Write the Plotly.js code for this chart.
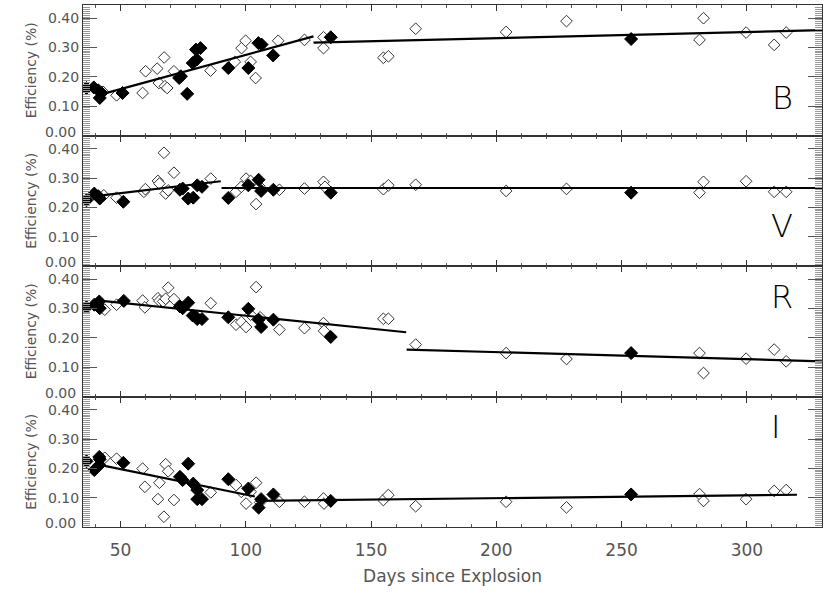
<!DOCTYPE html>
<html>
<head>
<meta charset="utf-8">
<script src="https://cdn.plot.ly/plotly-3.0.1.min.js"></script>
<style>
  html, body { margin: 0; padding: 0; background: #fff; }
  #plot1 { width: 830px; height: 593px; }
</style>
</head>
<body>
<div id="plot1"></div>
<script>
// B band
let b_open_days = [43.0, 48.4, 58.8, 60.0, 64.6, 65.3, 67.4, 67.7, 68.6, 71.3, 85.9, 95.6, 98.3, 99.9, 101.9, 103.9, 112.9, 123.4, 131.0, 131.0, 154.9, 156.9, 167.8, 203.9, 228.0, 281.1, 282.7, 299.7, 310.9, 315.7];
let b_open_eff = [0.149, 0.137, 0.145, 0.219, 0.228, 0.179, 0.266, 0.168, 0.162, 0.219, 0.221, 0.251, 0.298, 0.323, 0.251, 0.196, 0.323, 0.326, 0.335, 0.298, 0.265, 0.270, 0.364, 0.353, 0.390, 0.326, 0.400, 0.351, 0.309, 0.351];
let b_fill_days = [36.4, 39.3, 41.1, 42.4, 41.7, 50.8, 73.4, 74.1, 76.6, 78.8, 80.4, 80.1, 81.9, 93.0, 101.0, 105.0, 106.3, 110.9, 133.9, 253.8];
let b_fill_eff = [0.162, 0.164, 0.154, 0.145, 0.128, 0.145, 0.196, 0.202, 0.142, 0.247, 0.259, 0.293, 0.298, 0.230, 0.230, 0.315, 0.310, 0.273, 0.335, 0.329];
let b_fit_days = [43.0, 127.0, null, 127.0, 330.0];
let b_fit_eff = [0.142, 0.338, null, 0.317, 0.359];

// V band
let v_open_days = [43.3, 48.4, 59.3, 59.9, 64.9, 65.5, 67.3, 68.0, 69.0, 71.3, 86.0, 96.1, 98.2, 100.1, 101.9, 104.1, 105.4, 113.4, 123.4, 131.0, 131.6, 154.9, 156.9, 167.8, 203.9, 228.0, 281.1, 282.7, 299.7, 310.9, 315.7];
let v_open_eff = [0.241, 0.233, 0.253, 0.262, 0.290, 0.281, 0.386, 0.247, 0.258, 0.318, 0.298, 0.253, 0.270, 0.298, 0.290, 0.211, 0.272, 0.260, 0.264, 0.287, 0.270, 0.262, 0.275, 0.277, 0.256, 0.263, 0.250, 0.287, 0.289, 0.253, 0.253];
let v_fill_days = [36.4, 39.5, 41.1, 41.7, 51.1, 73.7, 74.8, 77.0, 79.0, 80.6, 82.5, 93.0, 101.0, 105.1, 106.1, 111.0, 133.9, 253.8];
let v_fill_eff = [0.224, 0.247, 0.238, 0.230, 0.219, 0.260, 0.264, 0.230, 0.233, 0.275, 0.270, 0.232, 0.275, 0.294, 0.256, 0.260, 0.250, 0.250];
let v_fit_days = [41.7, 90.0, null, 90.3, 330.0];
let v_fit_eff = [0.240, 0.289, null, 0.266, 0.266];

// R band
let r_open_days = [43.7, 48.4, 58.8, 59.7, 64.9, 65.5, 67.0, 68.0, 69.0, 71.3, 86.0, 96.1, 98.2, 100.1, 101.9, 104.1, 105.7, 113.4, 123.4, 131.0, 131.2, 154.9, 156.9, 167.8, 203.9, 228.0, 281.1, 282.7, 299.7, 310.9, 315.7];
let r_open_eff = [0.296, 0.313, 0.327, 0.304, 0.335, 0.326, 0.324, 0.333, 0.371, 0.332, 0.318, 0.245, 0.254, 0.237, 0.279, 0.373, 0.270, 0.228, 0.233, 0.250, 0.224, 0.265, 0.265, 0.177, 0.148, 0.128, 0.148, 0.080, 0.129, 0.160, 0.120];
let r_fill_days = [36.4, 39.5, 40.7, 41.5, 41.7, 51.3, 73.7, 74.8, 77.0, 78.8, 80.1, 80.6, 82.5, 93.0, 101.0, 105.1, 106.1, 111.0, 133.9, 253.8];
let r_fill_eff = [0.304, 0.313, 0.315, 0.324, 0.301, 0.326, 0.307, 0.301, 0.320, 0.276, 0.271, 0.264, 0.264, 0.270, 0.299, 0.262, 0.237, 0.262, 0.203, 0.148];
let r_fit_days = [41.7, 164.0, null, 164.2, 330.0];
let r_fit_eff = [0.327, 0.219, null, 0.160, 0.120];

// I band
let i_open_days = [43.7, 48.4, 58.8, 59.7, 64.9, 65.5, 67.3, 68.0, 69.0, 71.3, 86.0, 96.1, 98.2, 100.1, 101.9, 104.1, 105.7, 113.4, 123.4, 131.0, 131.2, 154.9, 156.9, 167.8, 203.9, 228.0, 281.1, 282.7, 299.7, 310.9, 315.7];
let i_open_eff = [0.236, 0.233, 0.199, 0.137, 0.095, 0.151, 0.035, 0.214, 0.190, 0.092, 0.118, 0.143, 0.120, 0.080, 0.120, 0.151, 0.084, 0.086, 0.086, 0.097, 0.080, 0.092, 0.109, 0.071, 0.086, 0.067, 0.112, 0.089, 0.095, 0.123, 0.126];
let i_fill_days = [36.4, 39.5, 41.5, 41.7, 41.5, 51.1, 73.7, 74.8, 77.0, 79.0, 80.6, 80.6, 82.5, 93.0, 101.0, 105.1, 106.1, 111.0, 133.9, 253.8];
let i_fill_eff = [0.224, 0.194, 0.239, 0.231, 0.211, 0.219, 0.171, 0.160, 0.216, 0.148, 0.126, 0.095, 0.095, 0.163, 0.131, 0.066, 0.095, 0.111, 0.089, 0.111];
let i_fit_days = [41.7, 103.6, null, 104.0, 320.0];
let i_fit_eff = [0.212, 0.104, null, 0.089, 0.110];

let band_names = ["B", "V", "R", "I"];
let y_ticks = [0, 0.1, 0.2, 0.3, 0.4];
let y_tick_text = ["", "0.10", "0.20", "0.30", "0.40"];
let x_ticks = [50, 100, 150, 200, 250, 300];

let bands = [
  [b_open_days, b_open_eff, b_fill_days, b_fill_eff, b_fit_days, b_fit_eff],
  [v_open_days, v_open_eff, v_fill_days, v_fill_eff, v_fit_days, v_fit_eff],
  [r_open_days, r_open_eff, r_fill_days, r_fill_eff, r_fit_days, r_fit_eff],
  [i_open_days, i_open_eff, i_fill_days, i_fill_eff, i_fit_days, i_fit_eff],
];

// where the band letter sits inside each panel (paper x, panel-fraction y)
let label_x = [0.946, 0.946, 0.946, 0.937];
let label_y = [0.29, 0.31, 0.76, 0.77];

let txt_color = "#555";
let font_family = "DejaVu Sans, sans-serif";

let data = [];
let layout = {
  width: 830,
  height: 593,
  margin: { l: 83, r: 8, t: 5, b: 66 },
  paper_bgcolor: "#fff",
  plot_bgcolor: "#fff",
  showlegend: false,
  font: { family: font_family, color: txt_color },
  annotations: [],
};

for (let i = 0; i < 4; i++) {
  // panel 0 on top
  let n = i == 0 ? "" : String(i + 1);
  let xa = "x" + n;
  let ya = "y" + n;
  let top = 1 - i * 0.25;
  let [od, oe, fd, fe, ld, le] = bands[i];

  data.push({
    x: od, y: oe, xaxis: xa, yaxis: ya,
    mode: "markers", type: "scatter",
    marker: { symbol: "diamond", size: 9, color: "#fff", line: { color: "#333", width: 1 } },
  });
  data.push({
    x: fd, y: fe, xaxis: xa, yaxis: ya,
    mode: "markers", type: "scatter",
    marker: { symbol: "diamond", size: 10, color: "#000", line: { color: "#000", width: 1 } },
  });
  data.push({
    x: ld, y: le, xaxis: xa, yaxis: ya,
    mode: "lines", type: "scatter",
    line: { color: "#000", width: 2.2 },
  });

  layout["xaxis" + n] = {
    domain: [0, 1],
    anchor: ya,
    range: [35, 330],
    matches: i == 3 ? undefined : "x4",
    showline: true, linecolor: "#333", linewidth: 1, mirror: "allticks",
    ticks: "inside", ticklen: 6, tickcolor: "#333",
    tickvals: x_ticks,
    showticklabels: i == 3,
    ticklabelstandoff: 8,
    tickfont: { size: 17, color: txt_color, family: font_family },
    minor: { dtick: 10, tick0: 0, ticks: "inside", ticklen: 3, tickcolor: "#555" },
    showgrid: false, zeroline: false,
    title: i == 3 ? { text: "Days since Explosion", font: { size: 17, color: txt_color }, standoff: 10 } : { text: "" },
  };
  layout["yaxis" + n] = {
    domain: [top - 0.25, top],
    anchor: xa,
    range: [0, 0.445],
    showline: true, linecolor: "#333", linewidth: 1, mirror: "allticks",
    ticks: "inside", ticklen: 14, tickcolor: "#555",
    tickvals: y_ticks, ticktext: y_tick_text,
    tickfont: { size: 14, color: txt_color, family: font_family },
    minor: { dtick: 0.0067, tick0: 0, ticks: "inside", ticklen: 7, tickcolor: "#999", tickwidth: 1 },
    showgrid: false, zeroline: false,
    title: { text: "Efficiency (%)", font: { size: 14, color: txt_color }, standoff: 8 },
  };
  // 0.00 label sits a little above the panel floor
  layout.annotations.push({
    xref: "paper", yref: ya, x: 0, y: 0, xanchor: "right", yanchor: "middle",
    xshift: -5, yshift: 4, showarrow: false,
    text: "0.00", font: { size: 14, color: txt_color },
  });
  layout.annotations.push({
    xref: "paper", yref: ya + " domain", x: label_x[i], y: label_y[i], xanchor: "center", yanchor: "middle",
    showarrow: false,
    text: band_names[i], font: { size: 32, color: "#000", family: "DejaVu Sans, sans-serif", weight: 200 },
  });
}

let config = { staticPlot: true };
Plotly.newPlot("plot1", data, layout, config);
</script>
</body>
</html>
